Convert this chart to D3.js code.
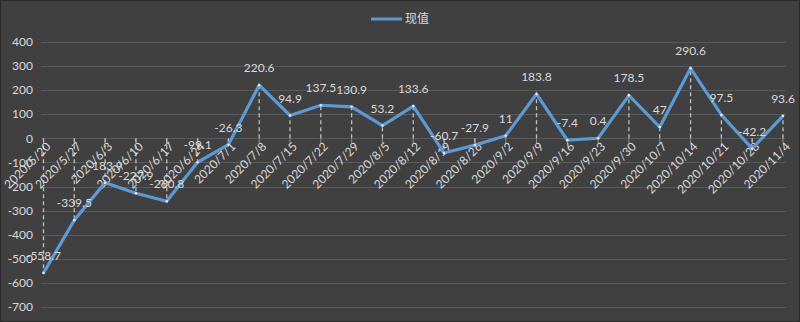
<!DOCTYPE html>
<html><head><meta charset="utf-8">
<script src="https://cdn.jsdelivr.net/npm/d3@7"></script>
<style>html,body{margin:0;padding:0;background:#404040;}svg{display:block;}</style>
</head><body>
<svg id="c" width="800" height="322"></svg>
<script>
const categories = ["2020/5/20","2020/5/27","2020/6/3","2020/6/10","2020/6/17","2020/6/24","2020/7/1","2020/7/8","2020/7/15","2020/7/22","2020/7/29","2020/8/5","2020/8/12","2020/8/19","2020/8/26","2020/9/2","2020/9/9","2020/9/16","2020/9/23","2020/9/30","2020/10/7","2020/10/14","2020/10/21","2020/10/28","2020/11/4"];
const values = [-558.7,-339.5,-183.9,-227.9,-260.8,-99.1,-26.3,220.6,94.9,137.5,130.9,53.2,133.6,-60.7,-27.9,11,183.8,-7.4,0.4,178.5,47,290.6,97.5,-42.2,93.6];
const yTicks = [400,300,200,100,0,-100,-200,-300,-400,-500,-600,-700];
const seriesName = "现值";

const svg = d3.select("#c");
const W = 800, H = 322;
svg.append("rect").attr("x",0.5).attr("y",0.5).attr("width",W-1).attr("height",H-1)
  .attr("fill","#404040").attr("stroke","#2a2a2a");

const x = d3.scalePoint().domain(categories).range([43.5, 783]);
const y = d3.scaleLinear().domain([-700, 400]).range([307, 42]);
const font = "Lato, 'Liberation Sans', sans-serif";

// gridlines
svg.append("g").selectAll("line").data(yTicks).join("line")
  .attr("x1",41).attr("x2",786)
  .attr("y1",d=>Math.round(y(d))+0.5).attr("y2",d=>Math.round(y(d))+0.5)
  .attr("stroke","#595959").attr("stroke-width",1);

// y labels
svg.append("g").selectAll("text").data(yTicks).join("text")
  .attr("x",33).attr("y",d=>y(d)).attr("dy","0.35em")
  .attr("text-anchor","end").attr("fill","#d9d9d9")
  .attr("font-family",font).attr("font-size",12).text(d=>d);

// tick marks at zero line
svg.append("g").selectAll("line").data(categories).join("line")
  .attr("x1",d=>x(d)).attr("x2",d=>x(d))
  .attr("y1",y(0)).attr("y2",y(0)+5)
  .attr("stroke","#8c8c8c").attr("stroke-width",1);

// drop lines
svg.append("g").selectAll("line").data(categories).join("line")
  .attr("x1",d=>x(d)).attr("x2",d=>x(d))
  .attr("y1",y(0)).attr("y2",(d,i)=>y(values[i]))
  .attr("stroke","#bfbfbf").attr("stroke-width",1.3).attr("stroke-dasharray","4,3");

// x labels
svg.append("g").selectAll("text").data(categories).join("text")
  .attr("transform",d=>`translate(${x(d)+5},${y(0)+6}) rotate(-45)`)
  .attr("text-anchor","end").attr("dy","0.35em").attr("fill","#d9d9d9")
  .attr("font-family",font).attr("font-size",12).text(d=>d);

// line
const line = d3.line().x((d,i)=>x(categories[i])).y(d=>y(d));
svg.append("path").datum(values).attr("d",line)
  .attr("fill","none").attr("stroke","#5B9BD5").attr("stroke-width",3.2)
  .attr("stroke-linejoin","miter");

svg.append("g").selectAll("circle").data(values).join("circle")
  .attr("cx",(d,i)=>x(categories[i])).attr("cy",d=>y(d)).attr("r",1.3)
  .attr("fill","#dfe9f5");

// data labels
svg.append("g").selectAll("text").data(values).join("text")
  .attr("x",(d,i)=>x(categories[i])).attr("y",d=>y(d)-13)
  .attr("text-anchor","middle").attr("fill","#d9d9d9")
  .attr("font-family",font).attr("font-size",12).text(d=>d);

// legend
svg.append("line").attr("x1",371).attr("x2",402).attr("y1",19).attr("y2",19)
  .attr("stroke","#5B9BD5").attr("stroke-width",3);
svg.append("text").attr("x",405).attr("y",19).attr("dy","0.35em")
  .attr("fill","#d9d9d9").attr("font-family","'Noto Sans CJK SC', sans-serif")
  .attr("font-size",12).text(seriesName);
</script>
</body></html>
